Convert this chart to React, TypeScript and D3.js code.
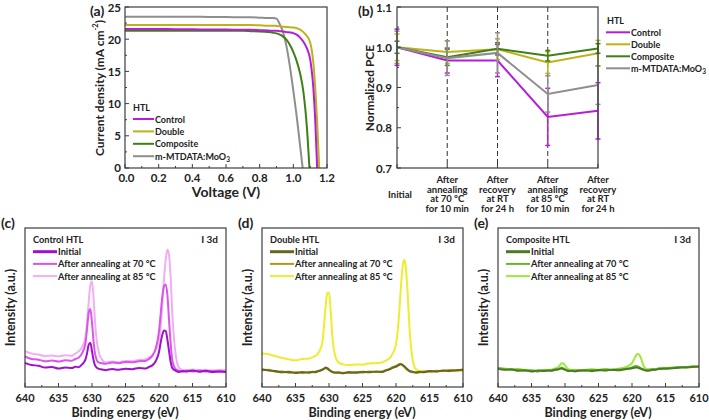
import React from "react";
import * as d3 from "d3";

const FONT = "Lato, 'Open Sans', sans-serif";
const AXIS = "#3c3c3c";

// ---------- (a) J-V ----------
const voltage = [0, 0.1, 0.2, 0.3, 0.4, 0.5, 0.6, 0.7, 0.75, 0.8, 0.85, 0.88, 0.9, 0.92, 0.94, 0.96, 0.98, 1.0, 1.02, 1.04, 1.06, 1.08, 1.1, 1.12, 1.13, 1.14, 1.15, 1.16];
const jControl = [21.6, 21.6, 21.6, 21.55, 21.55, 21.5, 21.5, 21.45, 21.45, 21.4, 21.35, 21.3, 21.3, 21.25, 21.2, 21.1, 21.05, 20.95, 20.7, 20.25, 19.6, 18.6, 16.9, 12.0, 7.5, 1.0, -6, null];
const jDouble = [22.2, 22.2, 22.2, 22.2, 22.2, 22.2, 22.2, 22.2, 22.2, 22.15, 22.1, 22.1, 22.05, 22.0, 21.95, 21.9, 21.85, 21.8, 21.7, 21.5, 21.1, 20.5, 19.5, 16.0, 12.5, 8.0, 2.2, -4];
const jComposite = [21.3, 21.3, 21.3, 21.3, 21.3, 21.3, 21.3, 21.3, 21.25, 21.2, 21.1, 21.0, 20.9, 20.7, 20.4, 19.9, 19.1, 18.0, 16.6, 14.7, 11.8, 6.5, -2, null, null, null, null, null];
const jMtdata = [23.5, 23.5, 23.5, 23.5, 23.5, 23.45, 23.45, 23.4, 23.4, 23.35, 23.3, 23.3, 23.2, 22.3, 21.0, 18.8, 15.7, 12.0, 8.0, 3.5, -1, null, null, null, null, null, null, null];
const htlNames = ["Control", "Double", "Composite", "m-MTDATA:MoO"];
const htlColors = ["#B41EDB", "#BDB21A", "#3F7F15", "#8E8E8E"];
const vTicks = [0, 0.2, 0.4, 0.6, 0.8, 1.0, 1.2];
const jTicks = [0, 5, 10, 15, 20, 25];

// ---------- (b) normalized PCE ----------
const stageLabels = [
  ["Initial"],
  ["After", "annealing", "at 70 °C", "for 10 min"],
  ["After", "recovery", "at RT", "for 24 h"],
  ["After", "annealing", "at 85 °C", "for 10 min"],
  ["After", "recovery", "at RT", "for 24 h"],
];
const pceControl = [1.0, 0.967, 0.967, 0.827, 0.842];
const errControl = [0.045, 0.031, 0.04, 0.071, 0.07];
const pceDouble = [1.0, 0.988, 0.995, 0.962, 0.985];
const errDouble = [0.033, 0.028, 0.026, 0.027, 0.032];
const pceComposite = [1.0, 0.975, 0.996, 0.979, 0.997];
const errComposite = [0.015, 0.02, 0.015, 0.013, 0.012];
const pceMtdata = [1.0, 0.973, 0.986, 0.884, 0.906];
const errMtdata = [0.04, 0.043, 0.05, 0.045, 0.048];
const pceTicks = [0.7, 0.8, 0.9, 1.0, 1.1];

// ---------- (c)-(e) XPS I 3d ----------
const energy = [640, 639, 638, 637, 636, 635, 634, 633, 632.5, 632, 631.5, 631, 630.75, 630.5, 630.25, 630, 629.75, 629.5, 629, 628.5, 628, 627, 626, 625, 624, 623, 622, 621.5, 621, 620.5, 620, 619.75, 619.5, 619.25, 619, 618.75, 618.5, 618.25, 618, 617.5, 617, 616.5, 616, 615, 614, 613, 612, 611, 610];
const ctrlInitial = [15.2, 13.8, 13.4, 12.2, 12.6, 11.6, 12.3, 11.9, 12.8, 12.5, 14.2, 17.0, 21.0, 26.5, 27.8, 22.5, 16.5, 13.2, 11.4, 11.0, 10.6, 11.3, 10.8, 11.4, 11.2, 12.0, 11.7, 12.6, 13.6, 16.2, 22.0, 28.0, 33.0, 35.6, 35.2, 30.0, 22.5, 15.5, 11.8, 10.2, 9.5, 10.1, 9.7, 10.4, 9.6, 10.2, 9.4, 9.9, 9.3];
const ctrl70 = [19.2, 17.6, 17.2, 16.2, 16.6, 16.0, 16.8, 16.5, 17.6, 18.4, 21.0, 27.0, 36.0, 46.5, 49.0, 40.5, 28.0, 20.0, 15.4, 15.0, 14.6, 15.4, 15.0, 15.8, 15.5, 16.2, 16.4, 17.6, 19.6, 24.0, 35.0, 46.0, 57.0, 63.5, 64.5, 58.0, 42.0, 27.0, 16.5, 11.2, 10.2, 9.6, 10.3, 9.8, 10.4, 9.7, 10.2, 9.5, 9.9];
const ctrl85 = [22.6, 21.0, 20.4, 19.4, 19.8, 19.2, 20.0, 19.6, 21.0, 22.4, 25.0, 31.0, 40.0, 53.0, 64.0, 66.5, 55.0, 38.0, 22.0, 17.2, 15.4, 16.0, 15.6, 16.4, 16.2, 17.0, 17.4, 18.6, 20.0, 23.5, 30.0, 38.0, 52.0, 68.0, 80.0, 86.5, 83.0, 68.0, 45.0, 20.0, 12.0, 10.8, 10.3, 11.0, 10.4, 10.9, 10.2, 10.8, 10.5];
const dblInitial = [11.2, 10.4, 10.0, 9.2, 9.6, 8.8, 9.4, 9.0, 9.6, 9.3, 10.2, 10.8, 11.6, 12.2, 11.8, 11.0, 10.2, 9.5, 9.0, 9.2, 8.6, 9.4, 8.9, 9.6, 9.2, 9.8, 9.5, 10.4, 11.0, 12.0, 12.8, 13.4, 14.0, 14.4, 13.8, 13.0, 12.0, 11.0, 10.2, 9.6, 9.0, 9.6, 9.3, 10.0, 9.7, 10.4, 10.1, 10.6, 10.8];
const dbl70 = [10.6, 10.9, 9.6, 9.8, 9.0, 9.3, 8.8, 9.5, 9.2, 9.8, 10.0, 11.0, 11.4, 11.8, 11.4, 10.6, 9.9, 9.3, 9.2, 8.8, 9.0, 8.8, 9.5, 9.1, 9.8, 9.4, 10.0, 10.6, 11.4, 12.4, 13.2, 13.8, 14.4, 14.2, 13.6, 12.6, 11.5, 10.6, 9.8, 9.3, 9.4, 9.1, 9.8, 9.6, 10.2, 10.0, 10.7, 10.4, 11.0];
const dbl85 = [21.0, 20.6, 19.4, 18.2, 17.4, 16.8, 17.6, 17.9, 18.6, 19.6, 22.0, 28.0, 38.0, 51.0, 59.0, 59.5, 48.0, 32.0, 18.5, 15.2, 14.4, 13.8, 14.2, 14.0, 14.8, 15.0, 15.6, 16.6, 18.0, 21.0, 27.0, 35.0, 48.0, 64.0, 76.0, 80.0, 74.0, 58.0, 38.0, 17.0, 11.0, 10.2, 9.6, 10.2, 9.7, 10.3, 9.9, 10.4, 9.9];
const cmpInitial = [11.4, 10.8, 11.2, 10.2, 10.6, 9.8, 10.4, 10.0, 10.6, 10.2, 10.8, 11.0, 11.4, 11.6, 11.2, 10.9, 10.4, 10.0, 10.3, 9.8, 10.2, 10.6, 10.0, 10.7, 10.3, 10.9, 10.5, 10.8, 11.2, 11.4, 11.8, 12.0, 12.3, 12.2, 11.9, 11.6, 11.2, 10.8, 10.4, 10.2, 10.7, 10.9, 11.3, 11.5, 11.8, 12.1, 12.4, 12.6, 12.9];
const cmp70 = [11.8, 11.2, 10.8, 10.9, 10.2, 10.4, 9.8, 10.6, 10.2, 10.5, 11.0, 11.4, 11.8, 12.2, 11.8, 11.2, 10.6, 10.4, 10.0, 10.3, 10.6, 10.2, 10.8, 10.4, 11.0, 10.7, 11.1, 11.0, 11.5, 11.8, 12.3, 12.8, 13.2, 13.0, 12.6, 12.0, 11.4, 11.0, 10.6, 10.8, 11.2, 11.0, 11.6, 11.9, 12.0, 12.5, 12.3, 12.9, 12.7];
const cmp85 = [12.0, 11.6, 11.0, 11.4, 10.8, 10.6, 10.2, 10.8, 10.5, 11.0, 11.6, 12.6, 13.8, 15.0, 14.8, 13.6, 12.2, 11.2, 10.6, 10.9, 10.4, 10.8, 11.2, 10.8, 11.4, 11.0, 11.5, 11.9, 12.5, 13.5, 15.0, 17.0, 19.0, 20.8, 20.6, 19.0, 16.0, 13.2, 11.6, 11.0, 11.4, 11.2, 11.8, 12.1, 12.2, 12.6, 12.4, 13.0, 12.8];
const xpsLegend = ["Initial", "After annealing at 70 °C", "After annealing at 85 °C"];
const eTicks = [640, 635, 630, 625, 620, 615, 610];

function MoO({ sub = 6.5 }: { sub?: number }) {
  return (
    <>
      m-MTDATA:MoO<tspan dy={3} fontSize={sub}>3</tspan>
    </>
  );
}

function PanelA() {
  const x = d3.scaleLinear().domain([0, 1.2]).range([125, 327]);
  const y = d3.scaleLinear().domain([0, 25]).range([168, 7]);
  const mk = (vals: (number | null)[]) =>
    d3
      .line<number | null>()
      .defined((d) => d !== null)
      .x((_, i) => x(voltage[i]))
      .y((d) => y(d as number))
      .curve(d3.curveMonotoneX)(vals) || "";
  const series = [jControl, jDouble, jComposite, jMtdata];
  const order = [3, 2, 1, 0];
  const minorX = d3.range(0.1, 1.2, 0.2);
  const minorY = d3.range(2.5, 25, 5);
  return (
    <g>
      <defs>
        <clipPath id="clipA">
          <rect x={125} y={7} width={202} height={161} />
        </clipPath>
      </defs>
      <g clipPath="url(#clipA)">
        {order.map((k) => (
          <path key={k} d={mk(series[k])} fill="none" stroke={htlColors[k]} strokeWidth={2} />
        ))}
      </g>
      <rect x={125} y={7} width={202} height={161} fill="none" stroke={AXIS} strokeWidth={1.2} />
      {vTicks.map((v) => (
        <g key={v}>
          <line x1={x(v)} x2={x(v)} y1={168} y2={164} stroke={AXIS} />
          <text x={x(v) + (v === 0 ? 1.5 : 0)} y={177.5} textAnchor="middle" dominantBaseline="central" fontSize={11.5}>
            {v.toFixed(1)}
          </text>
        </g>
      ))}
      {minorX.map((v) => (
        <line key={v} x1={x(v)} x2={x(v)} y1={168} y2={166} stroke={AXIS} />
      ))}
      {jTicks.map((v) => (
        <g key={v}>
          <line x1={125} x2={129} y1={y(v)} y2={y(v)} stroke={AXIS} />
          <text x={121} y={y(v) - (v === 0 ? 1 : 0)} textAnchor="end" dominantBaseline="central" fontSize={11.5}>
            {v}
          </text>
        </g>
      ))}
      {minorY.map((v) => (
        <line key={v} x1={125} x2={127} y1={y(v)} y2={y(v)} stroke={AXIS} />
      ))}
      <text x={226} y={191} textAnchor="middle" dominantBaseline="central" fontSize={14}>
        Voltage (V)
      </text>
      <text transform="translate(99,88) rotate(-90)" textAnchor="middle" dominantBaseline="central" fontSize={12}>
        Current density (mA cm<tspan dy={-4} fontSize={7.5}>-2</tspan>
        <tspan dy={4}>)</tspan>
      </text>
      <text x={90} y={10} dominantBaseline="central" fontSize={14}>
        (a)
      </text>
      <text x={133} y={107} dominantBaseline="central" fontSize={9}>
        HTL
      </text>
      {htlNames.map((n, i) => {
        const yy = 119 + i * 12.4;
        return (
          <g key={n}>
            <line x1={133} x2={154} y1={yy} y2={yy} stroke={htlColors[i]} strokeWidth={2} />
            <text x={155} y={yy} dominantBaseline="central" fontSize={9}>
              {i === 3 ? <MoO /> : n}
            </text>
          </g>
        );
      })}
    </g>
  );
}

function PanelB() {
  const x = d3.scaleLinear().domain([0, 4]).range([397, 598]);
  const y = d3.scaleLinear().domain([0.7, 1.1]).range([168, 7]);
  const vals = [pceControl, pceDouble, pceComposite, pceMtdata];
  const errs = [errControl, errDouble, errComposite, errMtdata];
  const line = d3
    .line<number>()
    .x((_, i) => x(i))
    .y((d) => y(d));
  const order = [0, 1, 2, 3];
  const minorY = d3.range(0.75, 1.1, 0.1);
  return (
    <g>
      {[1, 2, 3].map((i) => (
        <line key={i} x1={x(i)} x2={x(i)} y1={7} y2={168} stroke="#333" strokeDasharray="5,3" strokeWidth={1} />
      ))}
      {order.map((k) => (
        <g key={k}>
          <path d={line(vals[k]) || ""} fill="none" stroke={htlColors[k]} strokeWidth={2} />
          {vals[k].map((v, i) => {
            const e = errs[k][i];
            const xx = x(i);
            return (
              <g key={i} stroke={htlColors[k]} strokeWidth={1.5}>
                <line x1={xx} x2={xx} y1={y(v - e)} y2={y(v + e)} />
                <line x1={xx - 2.5} x2={xx + 2.5} y1={y(v - e)} y2={y(v - e)} />
                <line x1={xx - 2.5} x2={xx + 2.5} y1={y(v + e)} y2={y(v + e)} />
              </g>
            );
          })}
        </g>
      ))}
      <rect x={397} y={7} width={201} height={161} fill="none" stroke={AXIS} strokeWidth={1.2} />
      {pceTicks.map((v) => (
        <g key={v}>
          <line x1={397} x2={401} y1={y(v)} y2={y(v)} stroke={AXIS} />
          <text x={392} y={y(v)} textAnchor="end" dominantBaseline="central" fontSize={11.5}>
            {v.toFixed(1)}
          </text>
        </g>
      ))}
      {minorY.map((v) => (
        <line key={v} x1={397} x2={399} y1={y(v)} y2={y(v)} stroke={AXIS} />
      ))}
      {stageLabels.map((lines, i) => (
        <g key={i}>
          <line x1={x(i)} x2={x(i)} y1={168} y2={164} stroke={AXIS} />
          {lines.length === 1 ? (
            <text x={x(i) + 3} y={194} textAnchor="middle" dominantBaseline="central" fontSize={9.5}>
              {lines[0]}
            </text>
          ) : (
            <text x={x(i)} y={179} textAnchor="middle" dominantBaseline="central" fontSize={9.5}>
              {lines.map((t, j) => (
                <tspan key={j} x={x(i)} dy={j === 0 ? 0 : 9.6}>
                  {t}
                </tspan>
              ))}
            </text>
          )}
        </g>
      ))}
      <text transform="translate(369,88) rotate(-90)" textAnchor="middle" dominantBaseline="central" fontSize={12}>
        Normalized PCE
      </text>
      <text x={358} y={10} dominantBaseline="central" fontSize={14}>
        (b)
      </text>
      <text x={607} y={20} dominantBaseline="central" fontSize={9}>
        HTL
      </text>
      {htlNames.map((n, i) => {
        const yy = 32.3 + i * 12;
        return (
          <g key={n}>
            <line x1={606} x2={630} y1={yy} y2={yy} stroke={htlColors[i]} strokeWidth={2} />
            <text x={631} y={yy} dominantBaseline="central" fontSize={9}>
              {i === 3 ? <MoO /> : n}
            </text>
          </g>
        );
      })}
    </g>
  );
}

type XpsProps = {
  x0: number;
  tag: string;
  title: string;
  colors: string[];
  widths: number[];
  data: number[][];
};

function Xps({ x0, tag, title, colors, widths, data }: XpsProps) {
  const x = d3.scaleLinear().domain([640, 610]).range([x0, x0 + 201]);
  const y = d3.scaleLinear().domain([0, 100]).range([387, 228]);
  const line = d3
    .line<number>()
    .x((_, i) => x(energy[i]))
    .y((d) => y(d))
    .curve(d3.curveMonotoneX);
  const minor = d3.range(637.5, 610, -5);
  const order = [2, 1, 0];
  return (
    <g>
      {order.map((k) => (
        <path key={k} d={line(data[k]) || ""} fill="none" stroke={colors[k]} strokeWidth={widths[k]} strokeLinejoin="round" />
      ))}
      <rect x={x0} y={228} width={201} height={159} fill="none" stroke={AXIS} strokeWidth={1.2} />
      {eTicks.map((v) => (
        <g key={v}>
          <line x1={x(v)} x2={x(v)} y1={387} y2={383} stroke={AXIS} />
          <text x={x(v)} y={397.5} textAnchor="middle" dominantBaseline="central" fontSize={11}>
            {v}
          </text>
        </g>
      ))}
      {minor.map((v) => (
        <line key={v} x1={x(v)} x2={x(v)} y1={387} y2={385} stroke={AXIS} />
      ))}
      <text x={x0 + 100} y={412.3} textAnchor="middle" dominantBaseline="central" fontSize={12.5}>
        Binding energy (eV)
      </text>
      <text transform={`translate(${x0 - 15},307.5) rotate(-90)`} textAnchor="middle" dominantBaseline="central" fontSize={12.5}>
        Intensity (a.u.)
      </text>
      <text x={x0 - 24} y={222} dominantBaseline="central" fontSize={14}>
        {tag}
      </text>
      <text x={x0 + 8} y={239} dominantBaseline="central" fontSize={9.2}>
        {title}
      </text>
      <text x={x0 + 193} y={239} textAnchor="end" dominantBaseline="central" fontSize={10}>
        I 3d
      </text>
      {xpsLegend.map((n, i) => {
        const yy = 251.7 + i * 12.2;
        return (
          <g key={n}>
            <line x1={x0 + 8} x2={x0 + 32} y1={yy} y2={yy} stroke={colors[i]} strokeWidth={i === 0 ? 3 : 2} />
            <text x={x0 + 33} y={yy} dominantBaseline="central" fontSize={9.2}>
              {n}
            </text>
          </g>
        );
      })}
    </g>
  );
}

export default function App() {
  return (
    <svg
      width={709}
      height={420}
      style={{ position: "absolute", left: 0, top: 0, background: "#fff" }}
      fontFamily={FONT}
      fontWeight="bold"
      fill="#222"
    >
      <PanelA />
      <PanelB />
      <Xps
        x0={25}
        tag="(c)"
        title="Control HTL"
        colors={["#9C13C9", "#DA55EC", "#F2AEF4"]}
        widths={[2, 2, 2]}
        data={[ctrlInitial, ctrl70, ctrl85]}
      />
      <Xps
        x0={262}
        tag="(d)"
        title="Double HTL"
        colors={["#6B6522", "#A79C1D", "#EDED2F"]}
        widths={[2, 2, 2]}
        data={[dblInitial, dbl70, dbl85]}
      />
      <Xps
        x0={498}
        tag="(e)"
        title="Composite HTL"
        colors={["#4B7A25", "#6DB133", "#9CEB3C"]}
        widths={[2, 2, 2]}
        data={[cmpInitial, cmp70, cmp85]}
      />
    </svg>
  );
}
